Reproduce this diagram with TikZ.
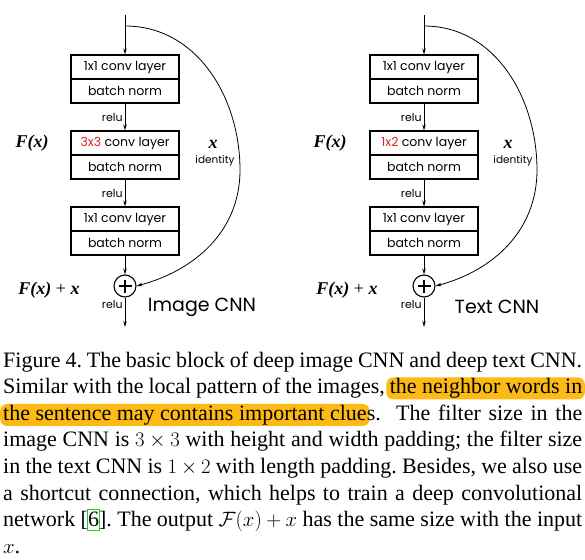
\documentclass[tikz,border=0pt]{standalone}
\usepackage{fontspec}
\setmainfont{Liberation Serif}
\newfontfamily\gothic{Poppins}
\usetikzlibrary{arrows.meta}
\definecolor{hlorange}{RGB}{253,185,20}
\definecolor{citegreen}{RGB}{30,215,30}
\definecolor{kred}{RGB}{215,35,35}
\newcommand\citebox[1]{{\setlength{\fboxsep}{0pt}\setlength{\fboxrule}{1.4pt}\kern-1.4pt\fcolorbox{citegreen}{white}{\rule[-3pt]{0pt}{19.5pt}#1}\kern-1.4pt}}
\tikzset{
  layer/.style={draw, line width=1.1pt, minimum width=108pt, minimum height=24pt,
    inner sep=0pt, font=\gothic\fontsize{12.5}{12.5}\selectfont},
  sum/.style={draw, circle, line width=1.1pt, minimum size=22pt, inner sep=0pt,
    path picture={\draw[line width=1.6pt] (-6.5pt,0pt) -- (6.5pt,0pt) (0pt,-6.5pt) -- (0pt,6.5pt);}},
  flow/.style={line width=0.8pt, -{Stealth[length=6pt,width=3.5pt]}},
  relu/.style={font=\gothic\fontsize{11}{11}\selectfont, inner sep=2pt},
  idtext/.style={font=\gothic\fontsize{10.5}{10.5}\selectfont, inner sep=0pt},
  fxlabel/.style={font=\rmfamily\bfseries\itshape\fontsize{18}{18}\selectfont, inner sep=0pt},
  blocktitle/.style={font=\gothic\fontsize{19}{19}\selectfont, inner sep=0pt},
  capline/.style={anchor=base west, inner sep=0pt,
    font=\rmfamily\frenchspacing\fontsize{22}{26.8}\selectfont},
  hlbox/.style={fill=hlorange, rounded corners=7pt, inner xsep=3pt, inner ysep=1pt,
    font=\rmfamily\fontsize{22}{26.8}\selectfont}
}
\begin{document}
\begin{tikzpicture}[x=1pt,y=1pt]
  \useasboundingbox (0,0) rectangle (585,-559);
  % image CNN block
  \coordinate (iin) at (125,-15);
  \coordinate (isplit) at (125,-26);
  \coordinate (iout) at (125,-327);
  \coordinate (iside) at (240,-170);
  \node[layer] (ic1) at (125,-67) {1x1 conv layer};
  \node[layer] (ib1) at (125,-91) {batch norm};
  \node[layer] (ic2) at (125,-143) {\textcolor{kred}{3x3} conv layer};
  \node[layer] (ib2) at (125,-167) {batch norm};
  \node[layer] (ic3) at (125,-219) {1x1 conv layer};
  \node[layer] (ib3) at (125,-243) {batch norm};
  \node[sum] (isum) at (125,-286) {};
  \draw[flow] (iin) -- (ic1);
  \draw[flow] (ib1) -- node[relu,left] {relu} (ic2);
  \draw[flow] (ib2) -- node[relu,left] {relu} (ic3);
  \draw[flow] (ib3) -- (isum);
  \draw[flow] (isum) -- node[relu,left,pos=0.25] {relu} (iout);
  \draw[flow] (isplit) to[out=0,in=90] (iside) to[out=-90,in=15] (isum.east);
  \node[fxlabel] (ifx) at (32,-143) {F(x)};
  \node[fxlabel] (ifxx) at (49,-290) {F(x) {\mdseries\upshape +} x};
  \node[fxlabel] (ix) at (213,-144) {x};
  \node[idtext] (iid) at (215,-161) {identity};
  \node[blocktitle] (ititle) at (202,-307) {Image CNN};
  % text CNN block
  \coordinate (tin) at (424,-15);
  \coordinate (tsplit) at (424,-26);
  \coordinate (tout) at (424,-327);
  \coordinate (tside) at (537,-170);
  \node[layer] (tc1) at (424,-67) {1x1 conv layer};
  \node[layer] (tb1) at (424,-91) {batch norm};
  \node[layer] (tc2) at (424,-143) {\textcolor{kred}{1x2} conv layer};
  \node[layer] (tb2) at (424,-167) {batch norm};
  \node[layer] (tc3) at (424,-219) {1x1 conv layer};
  \node[layer] (tb3) at (424,-243) {batch norm};
  \node[sum] (tsum) at (424,-286) {};
  \draw[flow] (tin) -- (tc1);
  \draw[flow] (tb1) -- node[relu,left] {relu} (tc2);
  \draw[flow] (tb2) -- node[relu,left] {relu} (tc3);
  \draw[flow] (tb3) -- (tsum);
  \draw[flow] (tsum) -- node[relu,left,pos=0.25] {relu} (tout);
  \draw[flow] (tsplit) to[out=0,in=90] (tside) to[out=-90,in=15] (tsum.east);
  \node[fxlabel] (tfx) at (330,-143) {F(x)};
  \node[fxlabel] (tfxx) at (347,-290) {F(x) {\mdseries\upshape +} x};
  \node[fxlabel] (tx) at (508,-144) {x};
  \node[idtext] (tid) at (513,-161) {identity};
  \node[blocktitle] (ttitle) at (497,-307) {Text CNN};
  % caption, highlights first
  \node[hlbox, anchor=base east] (hl1) at (585,-393.6) {\phantom{the neighbor words in}};
  \node[hlbox, anchor=base west] (hl2) at (0,-420.2) {\phantom{the sentence may contains important clue}};
  \node[capline] (cap1) at (3,-367) {\makebox[579pt][s]{Figure 4. The basic block of deep image CNN and deep text CNN.}};
  \node[capline] (cap2) at (3,-393.6) {\makebox[579pt][s]{Similar with the local pattern of the images, \mbox{the neighbor words in}}};
  \node[capline] (cap3) at (3,-420.2) {\makebox[579pt][s]{\mbox{the sentence may contains important clue}s. \ The filter size in the}};
  \node[capline] (cap4) at (3,-446.8) {\makebox[579pt][s]{image CNN is $3 \times 3$ with height and width padding; the filter size}};
  \node[capline] (cap5) at (3,-473.4) {\makebox[579pt][s]{in the text CNN is $1 \times 2$ with length padding. Besides, we also use}};
  \node[capline] (cap6) at (3,-500) {\makebox[579pt][s]{a shortcut connection, which helps to train a deep convolutional}};
  \node[capline] (cap7) at (3,-526.6) {\makebox[579pt][s]{network [\citebox{6}]. The output $\mathcal{F}(x) + x$ has the same size with the input}};
  \node[capline] (cap8) at (3,-553.2) {$x$.};
\end{tikzpicture}
\end{document}
